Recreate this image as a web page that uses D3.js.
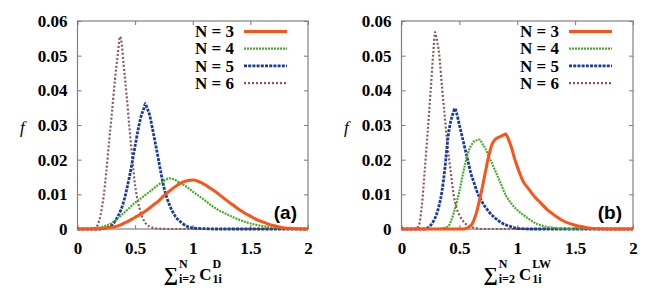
<!DOCTYPE html>
<html>
<head>
<meta charset="utf-8">
<script src="https://cdn.jsdelivr.net/npm/d3@7"></script>
<style>
  body { margin: 0; background: #fff; }
  svg { display: block; }
  text { font-family: "Liberation Serif", "DejaVu Serif", "Times New Roman", serif; font-weight: bold; fill: #000; }
</style>
</head>
<body>
<div id="chart"></div>
<script>
// tick values / labels
const xTicks = [0, 0.5, 1, 1.5, 2];
const xTickLabels = ["0", "0.5", "1", "1.5", "2"];
const yTicks = [0, 0.01, 0.02, 0.03, 0.04, 0.05, 0.06];
const yTickLabels = ["0", "0.01", "0.02", "0.03", "0.04", "0.05", "0.06"];

const seriesNames = ["N = 3", "N = 4", "N = 5", "N = 6"];

// panel (a): sum of C^D
const a3 = [[0,0],[0.1,0],[0.2,0.0001],[0.3,0.0005],[0.35,0.0009],[0.4,0.0016],[0.45,0.0024],[0.5,0.0034],[0.55,0.0043],[0.6,0.0054],[0.65,0.0067],[0.7,0.0080],[0.75,0.0096],[0.8,0.0110],[0.85,0.0123],[0.9,0.0133],[0.95,0.0139],[1.0,0.0141],[1.05,0.0137],[1.1,0.0129],[1.15,0.0118],[1.2,0.0107],[1.25,0.0094],[1.3,0.0081],[1.35,0.0069],[1.4,0.0057],[1.45,0.0046],[1.5,0.0037],[1.55,0.0028],[1.6,0.0021],[1.65,0.0015],[1.7,0.0010],[1.75,0.0006],[1.8,0.0003],[1.85,0.0002],[1.9,0.0001],[2,0]];
const a4 = [[0,0],[0.1,0.0001],[0.15,0.0002],[0.2,0.0005],[0.25,0.0010],[0.3,0.0018],[0.35,0.0031],[0.4,0.0046],[0.45,0.0061],[0.5,0.0076],[0.55,0.0088],[0.6,0.0101],[0.65,0.0114],[0.7,0.0127],[0.75,0.0139],[0.8,0.0146],[0.85,0.0141],[0.9,0.0131],[0.95,0.0121],[1.0,0.0108],[1.05,0.0096],[1.1,0.0084],[1.15,0.0071],[1.2,0.0059],[1.25,0.0050],[1.3,0.0042],[1.35,0.0034],[1.4,0.0027],[1.45,0.0021],[1.5,0.0016],[1.55,0.0012],[1.6,0.0009],[1.65,0.0006],[1.7,0.0004],[1.8,0.0002],[1.9,0.0001],[2,0]];
const a5 = [[0,0],[0.2,0],[0.25,0.0003],[0.3,0.0012],[0.35,0.0036],[0.4,0.0078],[0.45,0.0150],[0.5,0.0240],[0.525,0.0285],[0.55,0.0323],[0.575,0.0347],[0.59,0.0362],[0.6,0.0352],[0.625,0.0330],[0.65,0.0290],[0.675,0.0248],[0.7,0.0205],[0.725,0.0160],[0.75,0.0120],[0.8,0.0068],[0.85,0.0036],[0.9,0.0019],[0.95,0.0008],[1.0,0.0003],[1.1,0.0001],[1.2,0],[2,0]];
const a6 = [[0,0],[0.1,0],[0.15,0.0003],[0.175,0.0012],[0.2,0.0040],[0.225,0.0090],[0.25,0.0165],[0.275,0.0255],[0.3,0.0340],[0.325,0.0430],[0.35,0.0505],[0.37,0.0555],[0.385,0.0530],[0.4,0.0475],[0.425,0.0390],[0.45,0.0295],[0.475,0.0205],[0.5,0.0125],[0.525,0.0078],[0.55,0.0046],[0.575,0.0025],[0.6,0.0013],[0.65,0.0004],[0.7,0.0001],[0.8,0],[2,0]];

// panel (b): sum of C^LW
const b3 = [[0,0],[0.5,0],[0.55,0.0001],[0.6,0.0010],[0.625,0.0025],[0.65,0.0050],[0.675,0.0085],[0.7,0.0123],[0.725,0.0165],[0.75,0.0205],[0.775,0.0238],[0.8,0.0255],[0.85,0.0266],[0.875,0.0270],[0.9,0.0274],[0.925,0.0258],[0.95,0.0235],[0.975,0.0205],[1.0,0.0180],[1.05,0.0138],[1.1,0.0115],[1.15,0.0093],[1.2,0.0076],[1.25,0.0059],[1.3,0.0045],[1.35,0.0033],[1.4,0.0023],[1.45,0.0016],[1.5,0.0011],[1.55,0.0007],[1.6,0.0004],[1.7,0.0001],[2,0]];
const b4 = [[0,0],[0.3,0],[0.35,0.0002],[0.4,0.0007],[0.45,0.0045],[0.475,0.0075],[0.5,0.0108],[0.525,0.0150],[0.55,0.0188],[0.575,0.0220],[0.6,0.0240],[0.625,0.0252],[0.65,0.0256],[0.675,0.0258],[0.7,0.0245],[0.725,0.0232],[0.75,0.0212],[0.775,0.0195],[0.8,0.0175],[0.85,0.0137],[0.9,0.0098],[0.95,0.0073],[1.0,0.0055],[1.05,0.0041],[1.1,0.0029],[1.15,0.0018],[1.2,0.0011],[1.3,0.0004],[1.4,0.0001],[1.5,0],[2,0]];
const b5 = [[0,0],[0.2,0],[0.225,0.0003],[0.25,0.0010],[0.275,0.0022],[0.3,0.0040],[0.325,0.0068],[0.35,0.0110],[0.375,0.0175],[0.4,0.0260],[0.425,0.0310],[0.45,0.0338],[0.46,0.0348],[0.475,0.0335],[0.5,0.0300],[0.525,0.0265],[0.55,0.0230],[0.575,0.0195],[0.6,0.0160],[0.625,0.0135],[0.65,0.0110],[0.7,0.0076],[0.75,0.0052],[0.8,0.0034],[0.85,0.0021],[0.9,0.0012],[0.95,0.0006],[1.0,0.0002],[1.1,0],[2,0]];
const b6 = [[0,0],[0.1,0],[0.125,0.0002],[0.15,0.0010],[0.175,0.0065],[0.2,0.0165],[0.225,0.0275],[0.25,0.0390],[0.275,0.0510],[0.29,0.0568],[0.3,0.0555],[0.325,0.0505],[0.35,0.0410],[0.375,0.0320],[0.4,0.0235],[0.425,0.0165],[0.45,0.0100],[0.475,0.0062],[0.5,0.0040],[0.525,0.0026],[0.55,0.0016],[0.6,0.0006],[0.65,0.0002],[0.7,0],[2,0]];

const colors = ["#ff5216", "#45ad25", "#1b3c9c", "#86595b"];
const widths = [3, 2.2, 2.8, 2.2];
const dashes = [null, "2,1", "3,1.2", "2,2"];

const W = 664, H = 302;
const plotTop = 21, plotBottom = 229;

const svg = d3.select("#chart").append("svg")
  .attr("width", W)
  .attr("height", H);

const panels = [
  { left: 77.5, right: 308, data: [a3, a4, a5, a6], tag: "(a)", sup: "D", fx: 20 },
  { left: 401.5, right: 633, data: [b3, b4, b5, b6], tag: "(b)", sup: "LW", fx: 344 }
];

panels.forEach(p => drawPanel(p));

function drawPanel(p) {
  const x = d3.scaleLinear().domain([0, 2]).range([p.left, p.right]);
  const y = d3.scaleLinear().domain([0, 0.06]).range([plotBottom, plotTop]);

  const g = svg.append("g");

  // axes, gnuplot style: inward ticks, mirrored
  g.append("g")
    .attr("transform", "translate(" + p.left + ",0)")
    .call(d3.axisLeft(y).tickValues(yTicks).tickSize(-4).tickPadding(10)
      .tickFormat((d, i) => yTickLabels[i]));
  g.append("g")
    .attr("transform", "translate(0," + plotBottom + ")")
    .call(d3.axisBottom(x).tickValues(xTicks).tickSize(-4).tickPadding(13)
      .tickFormat((d, i) => xTickLabels[i]));
  g.append("g")
    .attr("transform", "translate(" + p.right + ",0)")
    .call(d3.axisRight(y).tickValues(yTicks).tickSize(-4).tickFormat(""));
  g.append("g")
    .attr("transform", "translate(0," + plotTop + ")")
    .call(d3.axisTop(x).tickValues(xTicks).tickSize(-4).tickFormat(""));

  g.selectAll(".domain").remove();
  g.selectAll(".tick line").attr("stroke", "#777").attr("stroke-width", 1);
  g.selectAll(".tick text")
    .style("font-family", "'Liberation Serif', 'DejaVu Serif', serif")
    .style("font-weight", "bold")
    .style("font-size", "17px")
    .attr("fill", "#000");

  g.append("rect")
    .attr("x", p.left).attr("y", plotTop)
    .attr("width", p.right - p.left).attr("height", plotBottom - plotTop)
    .attr("fill", "none").attr("stroke", "#808080").attr("stroke-width", 1.2);

  const line = d3.line()
    .x(d => x(d[0]))
    .y(d => y(d[1]))
    .curve(d3.curveMonotoneX);

  // draw N=6 first so N=3 sits on top
  for (let i = p.data.length - 1; i >= 0; i--) {
    g.append("path")
      .datum(p.data[i])
      .attr("d", line)
      .attr("fill", "none")
      .attr("stroke", colors[i])
      .attr("stroke-width", widths[i])
      .attr("stroke-dasharray", dashes[i]);
  }

  // legend
  const leg = g.append("g");
  seriesNames.forEach((name, i) => {
    const ly = 31.5 + i * 17.2;
    leg.append("text")
      .attr("x", p.right - 74).attr("y", ly)
      .attr("dy", "0.33em")
      .attr("text-anchor", "end")
      .style("font-size", "17px")
      .text(name);
    leg.append("line")
      .attr("x1", p.right - 64).attr("x2", p.right - 21)
      .attr("y1", ly).attr("y2", ly)
      .attr("stroke", colors[i])
      .attr("stroke-width", widths[i])
      .attr("stroke-dasharray", dashes[i]);
  });

  g.append("text")
    .attr("x", p.right - 11).attr("y", 219)
    .attr("text-anchor", "end")
    .style("font-family", "'Liberation Sans', Arial, sans-serif")
    .style("font-size", "19px")
    .text(p.tag);

  g.append("text")
    .attr("x", p.fx).attr("y", 133)
    .style("font-style", "italic")
    .style("font-weight", "normal")
    .style("font-size", "17px")
    .text("f");

  drawXLabel(g, (p.left + p.right) / 2, 280, p.sup);
}

function drawXLabel(g, cx, base, supText) {
  const lab = g.append("g");
  let cur = 0;
  const sig = lab.append("text").attr("x", cur).attr("y", 1)
    .style("font-size", "20px").text("∑");
  cur += sig.node().getComputedTextLength() + 1;
  const s1 = lab.append("text").attr("x", cur).attr("y", -12)
    .style("font-size", "12px").text("N");
  const d1 = lab.append("text").attr("x", cur).attr("y", 3)
    .style("font-size", "12px").text("i=2");
  cur += Math.max(s1.node().getComputedTextLength(), d1.node().getComputedTextLength()) + 4;
  const c = lab.append("text").attr("x", cur).attr("y", 0)
    .style("font-size", "17px").text("C");
  cur += c.node().getComputedTextLength() + 1;
  const s2 = lab.append("text").attr("x", cur).attr("y", -12)
    .style("font-size", "12px").text(supText);
  const d2 = lab.append("text").attr("x", cur).attr("y", 3)
    .style("font-size", "12px").text("1i");
  cur += Math.max(s2.node().getComputedTextLength(), d2.node().getComputedTextLength());
  lab.attr("transform", "translate(" + (cx - cur / 2) + "," + base + ")");
}
</script>
</body>
</html>
